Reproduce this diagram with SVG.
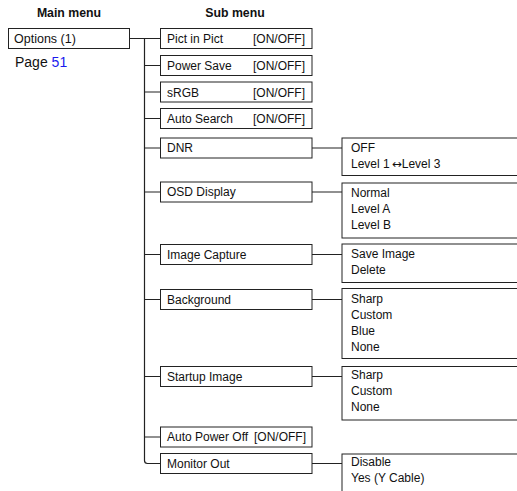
<svg xmlns="http://www.w3.org/2000/svg" width="517" height="491" viewBox="0 0 517 491">
<style>
text{font-family:"Liberation Sans",Arial,sans-serif;font-size:12px;fill:#111}
.hd{font-weight:bold;text-anchor:middle;font-size:12.3px}
.box{fill:#fff;stroke:#222;stroke-width:1}
.ln{fill:none;stroke:#222;stroke-width:1.2}
.r{text-anchor:end}
.lk{fill:#1a1aee}
.arr{font-family:"DejaVu Sans",sans-serif;font-size:12px}
</style>
<rect width="517" height="491" fill="#fff"/>
<text class="hd" x="69" y="17">Main menu</text>
<text class="hd" x="235" y="17">Sub menu</text>
<g id="connectors">
<path class="ln" d="M129.5 38.5H160.5M144.5 38.5V460.5Q144.5 463.5 147.5 463.5H160.5"/>
<path class="ln" d="M144.5 65.5H160.5M144.5 92H160.5M144.5 118.5H160.5M144.5 148H160.5M144.5 192H160.5M144.5 254.5H160.5M144.5 299.5H160.5M144.5 376.5H160.5M144.5 437H160.5"/>
<path class="ln" d="M312 148H342M312 192H342M312 254.5H342M312 299.5H342M312 376.5H342M312 463.5H342"/>
</g>
<g id="main">
<rect class="box" x="8.5" y="28.5" width="121" height="20"/>
<text x="14" y="43" style="font-size:12.5px">Options (1)</text>
<text x="15" y="67" style="font-size:14px">Page <tspan class="lk">51</tspan></text>
</g>
<g id="pict"><rect class="box" x="160.5" y="28.5" width="151.5" height="20"/><text x="167" y="43.3">Pict in Pict</text><text class="r" x="305" y="43.3">[ON/OFF]</text></g>
<g id="power"><rect class="box" x="160.5" y="55.5" width="151.5" height="20"/><text x="167" y="70">Power Save</text><text class="r" x="305" y="70">[ON/OFF]</text></g>
<g id="srgb"><rect class="box" x="160.5" y="82" width="151.5" height="20"/><text x="167" y="96.5">sRGB</text><text class="r" x="305" y="96.5">[ON/OFF]</text></g>
<g id="autosearch"><rect class="box" x="160.5" y="108.5" width="151.5" height="20"/><text x="167" y="123">Auto Search</text><text class="r" x="305" y="123">[ON/OFF]</text></g>
<g id="dnr"><rect class="box" x="160.5" y="138" width="151.5" height="20"/><text x="167" y="151.5">DNR</text></g>
<g id="osd"><rect class="box" x="160.5" y="182" width="151.5" height="20"/><text x="167" y="196">OSD Display</text></g>
<g id="capture"><rect class="box" x="160.5" y="244.5" width="151.5" height="20"/><text x="167" y="258.5">Image Capture</text></g>
<g id="background"><rect class="box" x="160.5" y="289.5" width="151.5" height="20"/><text x="167" y="303.5">Background</text></g>
<g id="startup"><rect class="box" x="160.5" y="366.5" width="151.5" height="20"/><text x="167" y="380.5">Startup Image</text></g>
<g id="autopower"><rect class="box" x="160.5" y="427" width="151.5" height="20"/><text x="167" y="441">Auto Power Off</text><text class="r" x="306" y="441">[ON/OFF]</text></g>
<g id="monitor"><rect class="box" x="160.5" y="453.5" width="151.5" height="20"/><text x="167" y="467.5">Monitor Out</text></g>
<g id="dnr-opts"><rect class="box" x="342" y="138" width="180" height="37.5"/><text x="351" y="151.5">OFF</text><text x="351" y="167.5">Level 1<tspan class="arr" dx="2">↔</tspan>Level 3</text></g>
<g id="osd-opts"><rect class="box" x="342" y="183" width="180" height="55"/><text x="351" y="196.7">Normal</text><text x="351" y="212.7">Level A</text><text x="351" y="228.5">Level B</text></g>
<g id="capture-opts"><rect class="box" x="342" y="244" width="180" height="38.5"/><text x="351" y="258.3">Save Image</text><text x="351" y="274.3">Delete</text></g>
<g id="background-opts"><rect class="box" x="342" y="288.5" width="180" height="70"/><text x="351" y="303.3">Sharp</text><text x="351" y="319.3">Custom</text><text x="351" y="335">Blue</text><text x="351" y="351">None</text></g>
<g id="startup-opts"><rect class="box" x="342" y="366.5" width="180" height="53.5"/><text x="351" y="379.3">Sharp</text><text x="351" y="395">Custom</text><text x="351" y="410.5">None</text></g>
<g id="monitor-opts"><rect class="box" x="342" y="454" width="180" height="50"/><text x="351" y="466">Disable</text><text x="351" y="481.5">Yes (Y Cable)</text></g>
</svg>
